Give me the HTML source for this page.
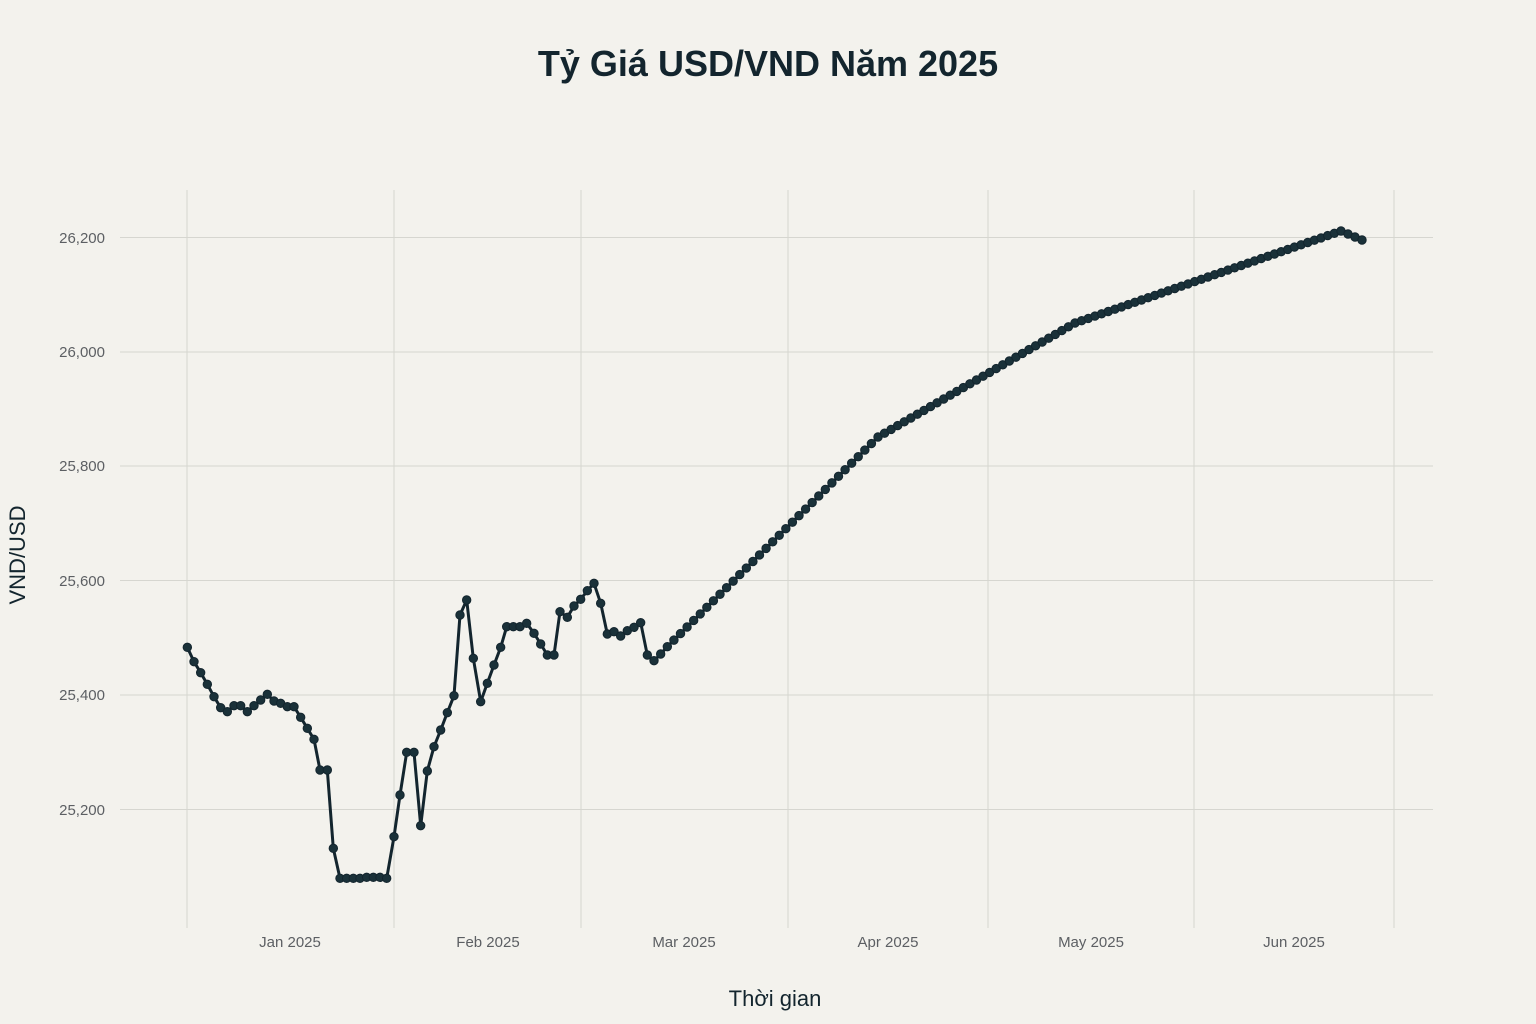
<!DOCTYPE html>
<html><head><meta charset="utf-8"><style>
body{margin:0;background:#f3f2ed;}
svg{display:block;font-family:"Liberation Sans",sans-serif;}
</style></head><body>
<svg id="s" width="1536" height="1024" xmlns="http://www.w3.org/2000/svg">
<rect width="1536" height="1024" fill="#f3f2ed"/>
<g stroke="#d6d6d0" stroke-width="1">
<line x1="120" x2="1433" y1="237.5" y2="237.5"/>
<line x1="120" x2="1433" y1="352" y2="352"/>
<line x1="120" x2="1433" y1="466" y2="466"/>
<line x1="120" x2="1433" y1="580.5" y2="580.5"/>
<line x1="120" x2="1433" y1="695" y2="695"/>
<line x1="120" x2="1433" y1="809.5" y2="809.5"/>
<line x1="187" x2="187" y1="190" y2="928"/>
<line x1="394" x2="394" y1="190" y2="928"/>
<line x1="581" x2="581" y1="190" y2="928"/>
<line x1="788" x2="788" y1="190" y2="928"/>
<line x1="988" x2="988" y1="190" y2="928"/>
<line x1="1194" x2="1194" y1="190" y2="928"/>
<line x1="1394" x2="1394" y1="190" y2="928"/>
</g>
<g fill="#5c5f63" font-size="15" text-anchor="end">
<text x="105" y="243">26,200</text>
<text x="105" y="357">26,000</text>
<text x="105" y="471">25,800</text>
<text x="105" y="586">25,600</text>
<text x="105" y="700">25,400</text>
<text x="105" y="815">25,200</text>
</g>
<g fill="#5c5f63" font-size="15" text-anchor="middle">
<text x="290" y="947">Jan 2025</text>
<text x="488" y="947">Feb 2025</text>
<text x="684" y="947">Mar 2025</text>
<text x="888" y="947">Apr 2025</text>
<text x="1091" y="947">May 2025</text>
<text x="1294" y="947">Jun 2025</text>
</g>
<text x="768" y="76" text-anchor="middle" font-size="36" font-weight="bold" fill="#13252e">Tỷ Giá USD/VND Năm 2025</text>
<text x="775" y="1006" text-anchor="middle" font-size="22" fill="#13252e">Thời gian</text>
<text transform="translate(25,555) rotate(-90)" text-anchor="middle" font-size="22" fill="#13252e">VND/USD</text>
<g id="d"></g>
</svg>
<script>
var z=[[52,232],[72,275],[92,308],[112,343],[132,380],[152,413],[172,425],[192,407],[212,407],[232,425],[252,407],[272,390],[292,373],[312,393],[332,400],[352,410],[372,410],[392,442],[412,475],[432,508],[450,600],[472,600],[490,835],[510,925],[530,925],[550,925],[570,925],[590,922],[610,922],[630,922],[650,925],[672,800],[690,675],[710,547],[732,547],[752,767],[772,603],[792,530],[812,480],[832,428],[852,377],[870,135],[890,90],[910,265],[932,395],[952,340],[972,285],[992,232],[1010,170],[1030,170],[1050,170],[1070,160],[1092,190],[1112,222],[1132,255],[1152,255],[1170,125],[1192,142],[1212,108],[1232,88],[1252,62],[1272,40],[1292,100],[1312,192],[1332,185],[1352,198],[1372,182],[1392,172],[1412,158],[1432,255],[1452,272],[1472,252],[1492,230]];
var p=z.map(function(a){return [170+a[0]/3,570+a[1]/3];});
var x=p[p.length-1][0],y=p[p.length-1][1];
var segs=[[878,437],[1075,323],[1341,231]];
segs.forEach(function(t){var n=Math.round((t[0]-x)/6.67);var x0=x,y0=y;for(var i=1;i<=n;i++){p.push([x0+(t[0]-x0)*i/n,y0+(t[1]-y0)*i/n]);}x=t[0];y=t[1];});
p.push([1348,234],[1355,237],[1362,240]);
var g=document.getElementById('d'),ns='http://www.w3.org/2000/svg';
var pl=document.createElementNS(ns,'polyline');
pl.setAttribute('points',p.map(function(a){return a[0].toFixed(1)+','+a[1].toFixed(1)}).join(' '));
pl.setAttribute('fill','none');pl.setAttribute('stroke','#13252e');pl.setAttribute('stroke-width','3');pl.setAttribute('stroke-linejoin','round');
g.appendChild(pl);
p.forEach(function(a){var c=document.createElementNS(ns,'circle');c.setAttribute('cx',a[0]);c.setAttribute('cy',a[1]);c.setAttribute('r','4.2');c.setAttribute('fill','#1a3139');c.setAttribute('stroke','#13252e');c.setAttribute('stroke-width','1');g.appendChild(c);});
</script>
</body></html>
